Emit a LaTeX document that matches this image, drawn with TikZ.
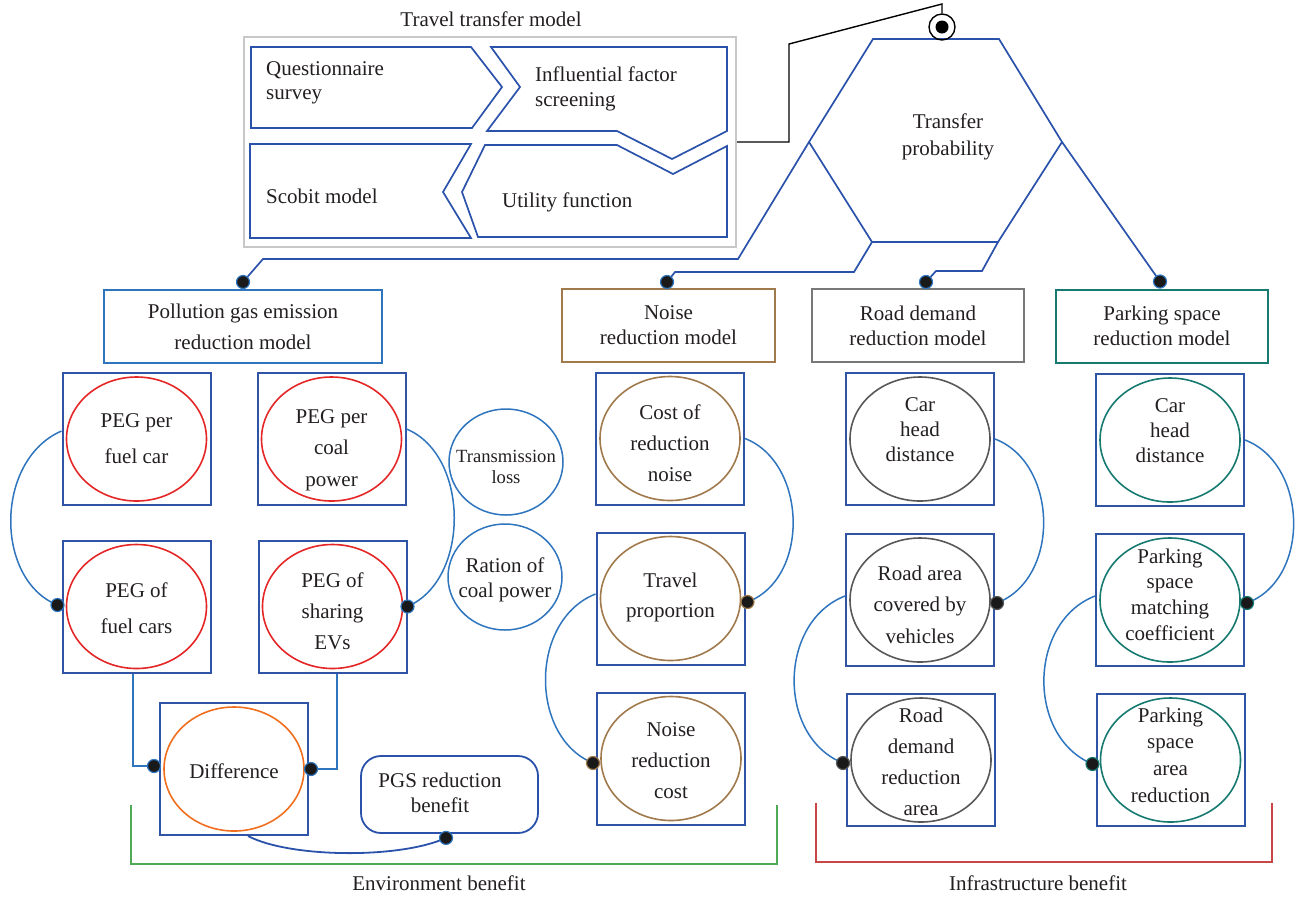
\documentclass[tikz,border=0pt]{standalone}
\usepackage{fontspec}
\setmainfont{Liberation Serif}
\usetikzlibrary{calc}

\definecolor{ink}{RGB}{35,31,32}
\definecolor{boxblue}{RGB}{47,84,166}
\definecolor{hexblue}{RGB}{43,82,170}
\definecolor{linkblue}{RGB}{46,117,190}
\definecolor{pegred}{RGB}{228,38,38}
\definecolor{diffor}{RGB}{240,110,30}
\definecolor{noisebr}{RGB}{160,122,76}
\definecolor{roadgray}{RGB}{88,88,88}
\definecolor{hdrgray}{RGB}{120,120,120}
\definecolor{parkteal}{RGB}{22,122,112}
\definecolor{framegray}{RGB}{200,200,200}
\definecolor{envgreen}{RGB}{80,170,85}
\definecolor{infred}{RGB}{200,70,70}

\tikzset{
  lbl/.style={text=ink, inner sep=0pt, align=center},
  cell/.style={draw=boxblue, line width=2pt, minimum width=148pt, minimum height=132pt, inner sep=0pt},
  ring/.style={draw=#1, line width=1.6pt},
  hdr/.style={draw=#1, line width=2pt, minimum height=73pt, inner sep=0pt, align=center, text=ink},
  jdot/.style={circle, fill=black!90, draw=#1, line width=1.2pt, minimum size=13pt, inner sep=0pt},
  link/.style={draw=linkblue, line width=1.5pt},
  flow/.style={draw=hexblue, line width=1.7pt},
}

% square cell with an ellipse and its text
\newcommand\cellnode[7]{%
  \node[cell] (#1) at (#2,#3) {};
  \draw[ring=#4] (#1.center) ellipse [x radius=70, y radius=62];
  \node[lbl, font=\fontsize{21}{#5}\selectfont, yshift=#6] (#1t) at (#1.center) {#7};
}

\begin{document}
\begin{tikzpicture}[x=1pt, y=-1pt, font=\fontsize{21}{25}\selectfont]
\useasboundingbox (0,0) rectangle (1297,898);

% ---- travel transfer model ----
\node[lbl] (ttl) at (491,19) {Travel transfer model};
\node[draw=framegray, line width=2pt, minimum width=492pt, minimum height=210pt, inner sep=0pt] (tbox) at (490,142) {};
\draw[flow] (251,47) -- (471,47) -- (502,87) -- (472,128) -- (251,128) -- cycle;
\draw[flow] (491,47) -- (727,47) -- (727,131) -- (672,159) -- (617,131) -- (487,131) -- (520,87) -- cycle;
\draw[flow] (250,144) -- (471,144) -- (443,192) -- (471,238) -- (250,238) -- cycle;
\draw[flow] (485,145) -- (617,145) -- (673,174) -- (727,146) -- (727,237) -- (478,237) -- (462,192) -- cycle;
\node[lbl, align=left, anchor=west, font=\fontsize{21}{24}\selectfont] (qs) at (266,83) {Questionnaire\\survey};
\node[lbl, align=left, anchor=west] (ifs) at (535,88.5) {Influential factor\\screening};
\node[lbl, anchor=west] (sm) at (266,196) {Scobit model};
\node[lbl, anchor=west] (uf) at (502,202) {Utility function};

% ---- transfer probability hexagon ----
\coordinate (htl) at (873,39);
\coordinate (htr) at (999,39);
\coordinate (hr) at (1062,142);
\coordinate (hbr) at (998,242);
\coordinate (hbl) at (872,242);
\coordinate (hl) at (809,142);
\draw[flow] (htl) -- (htr) -- (hr) -- (hbr) -- (hbl) -- (hl) -- cycle;
\node[lbl, font=\fontsize{21}{27}\selectfont] (tp) at (948,136.5) {Transfer\\probability};

\node[circle, draw=black, line width=1.4pt, minimum size=26pt, inner sep=0pt] (tgt) at (942,27) {};
\node[circle, fill=black, minimum size=13pt, inner sep=0pt] (tgtc) at (tgt.center) {};
\draw[black, line width=1.4pt] (tbox.east) -- (789,142) -- (789,44) -- (942,4) -- (tgt.north);

% ---- model headers ----
\node[hdr=linkblue, minimum width=278pt, font=\fontsize{21}{31}\selectfont] (hpol) at (243,326.5) {Pollution gas emission\\reduction model};
\node[hdr=noisebr, minimum width=213pt] (hnoise) at (668.5,325.5) {Noise\\reduction model};
\node[hdr=hdrgray, minimum width=212pt] (hroad) at (918,325.5) {Road demand\\reduction model};
\node[hdr=parkteal, minimum width=212pt] (hpark) at (1162,326) {Parking space\\reduction model};

\draw[flow] (hl) -- (738,259) -- (263,259) -- ([yshift=7pt]hpol.north);
\draw[flow] (hbl) -- (854,272) -- (675,272) -- ([xshift=-1.5pt,yshift=6pt]hnoise.north);
\draw[flow] (hbr) -- (982,271) -- (936,271) -- ([xshift=8pt,yshift=6pt]hroad.north);
\draw[flow] (hr) -- ([xshift=-2pt,yshift=7pt]hpark.north);

\node[jdot=linkblue] (dpol) at ([yshift=7pt]hpol.north) {};
\node[jdot=linkblue] (dnoise) at ([xshift=-1.5pt,yshift=6pt]hnoise.north) {};
\node[jdot=linkblue] (droad) at ([xshift=8pt,yshift=6pt]hroad.north) {};
\node[jdot=linkblue] (dpark) at ([xshift=-2pt,yshift=7pt]hpark.north) {};

% ---- cells ----
\cellnode{c1}{136.5}{439}{pegred}{36}{0pt}{PEG per\\fuel car}
\cellnode{c2}{331.5}{439}{pegred}{31.5}{-11pt}{PEG per\\coal\\power}
\cellnode{c3}{136.5}{606.5}{pegred}{36}{-1.5pt}{PEG of\\fuel cars}
\cellnode{c4}{332.5}{606.5}{pegred}{31}{-4.5pt}{PEG of\\sharing\\EVs}
\cellnode{dif}{234}{769}{diffor}{25}{-2pt}{Difference}
\cellnode{n1}{670}{438.5}{noisebr}{31}{-4.5pt}{Cost of\\reduction\\noise}
\cellnode{n2}{670.5}{598.5}{noisebr}{30}{1pt}{Travel\\proportion}
\cellnode{n3}{671}{758.5}{noisebr}{31}{-2.5pt}{Noise\\reduction\\cost}
\cellnode{r1}{920}{439}{roadgray}{25}{9pt}{Car\\head\\distance}
\cellnode{r2}{920}{600}{roadgray}{31.5}{-4.5pt}{Road area\\covered by\\vehicles}
\cellnode{r3}{921}{760}{roadgray}{31}{-1.5pt}{Road\\demand\\reduction\\area}
\cellnode{p1}{1170}{440}{parkteal}{25}{9.5pt}{Car\\head\\distance}
\cellnode{p2}{1170}{600}{parkteal}{25.7}{5.5pt}{Parking\\space\\matching\\coefficient}
\cellnode{p3}{1170.5}{760}{parkteal}{26.7}{5pt}{Parking\\space\\area\\reduction}

% ---- free circles ----
\node[lbl, font=\fontsize{18.6}{21}\selectfont] (tl) at (506,467) {Transmission\\loss};
\draw[link] ([yshift=5pt]tl.center) ellipse [x radius=57, y radius=53];
\node[lbl] (rc) at (505,579.5) {Ration of\\coal power};
\draw[link] ([yshift=2.5pt]rc.center) ellipse [x radius=57, y radius=53];

% ---- PGS benefit ----
\node[draw=hexblue, line width=1.8pt, rounded corners=20pt, minimum width=177pt, minimum height=77pt, inner sep=0pt] (pgs) at (449.5,794.5) {};
\node[lbl] (pgst) at (440,793) {PGS reduction\\benefit};

% ---- connectors in the pollution column ----
\draw[link] ([yshift=8pt]c1.west) .. controls +(-67,29) and +(-63,-25) .. ([xshift=-4pt,yshift=1.5pt]c3.west);
\draw[link] ([yshift=10pt]c2.east) .. controls +(63,26) and +(63,-27) .. (c4.east);
\draw[link] ([xshift=-3.5pt]c3.south) |- ([xshift=-5pt,yshift=3pt]dif.west);
\draw[link] ([xshift=4.5pt]c4.south) |- ([xshift=2pt]dif.east);
\draw[draw=hexblue, line width=1.8pt] ([xshift=14pt]dif.south) .. controls +(42,22) and +(-46,21) .. ([xshift=-3.5pt,yshift=-4pt]pgs.south);

\node[jdot=linkblue] (d1) at ([xshift=-4pt,yshift=1.5pt]c3.west) {};
\node[jdot=linkblue] (d2) at (c4.east) {};
\node[jdot=linkblue] (dd1) at ([xshift=-5pt,yshift=3pt]dif.west) {};
\node[jdot=linkblue] (dd2) at ([xshift=2pt]dif.east) {};
\node[jdot=linkblue] (dpg) at ([xshift=-3.5pt,yshift=-4pt]pgs.south) {};

% ---- connectors in the other columns ----
\draw[link] (n1.east) .. controls +(62,24) and +(63,-24) .. ([xshift=2pt,yshift=-3.5pt]n2.east);
\draw[link] ([yshift=4.5pt]n2.west) .. controls +(-66,26) and +(-64,-26) .. ([xshift=-3pt,yshift=-4.5pt]n3.west);
\draw[link] (r1.east) .. controls +(63,24) and +(64,-25) .. ([xshift=2pt,yshift=-3pt]r2.east);
\draw[link] ([yshift=4pt]r2.west) .. controls +(-67,26) and +(-66,-26) .. ([xshift=-3pt,yshift=-3pt]r3.west);
\draw[link] (p1.east) .. controls +(63,24) and +(64,-24) .. ([xshift=2pt,yshift=-3pt]p2.east);
\draw[link] ([yshift=4pt]p2.west) .. controls +(-67,26) and +(-66,-27) .. ([xshift=-3pt,yshift=-4pt]p3.west);

\node[jdot=noisebr] (dn2) at ([xshift=2pt,yshift=-3.5pt]n2.east) {};
\node[jdot=noisebr] (dn3) at ([xshift=-3pt,yshift=-4.5pt]n3.west) {};
\node[jdot=roadgray] (dr2) at ([xshift=2pt,yshift=-3pt]r2.east) {};
\node[jdot=roadgray] (dr3) at ([xshift=-3pt,yshift=-3pt]r3.west) {};
\node[jdot=parkteal] (dp2) at ([xshift=2pt,yshift=-3pt]p2.east) {};
\node[jdot=parkteal] (dp3) at ([xshift=-3pt,yshift=-4pt]p3.west) {};

% ---- benefit brackets ----
\draw[envgreen, line width=1.7pt] (131,805) |- (777,864) -- (777,805);
\node[lbl] (envl) at (439,883) {Environment benefit};
\draw[infred, line width=1.7pt] (816,803) |- (1272,862) -- (1272,803);
\node[lbl] (infl) at (1038,883) {Infrastructure benefit};
\end{tikzpicture}
\end{document}
